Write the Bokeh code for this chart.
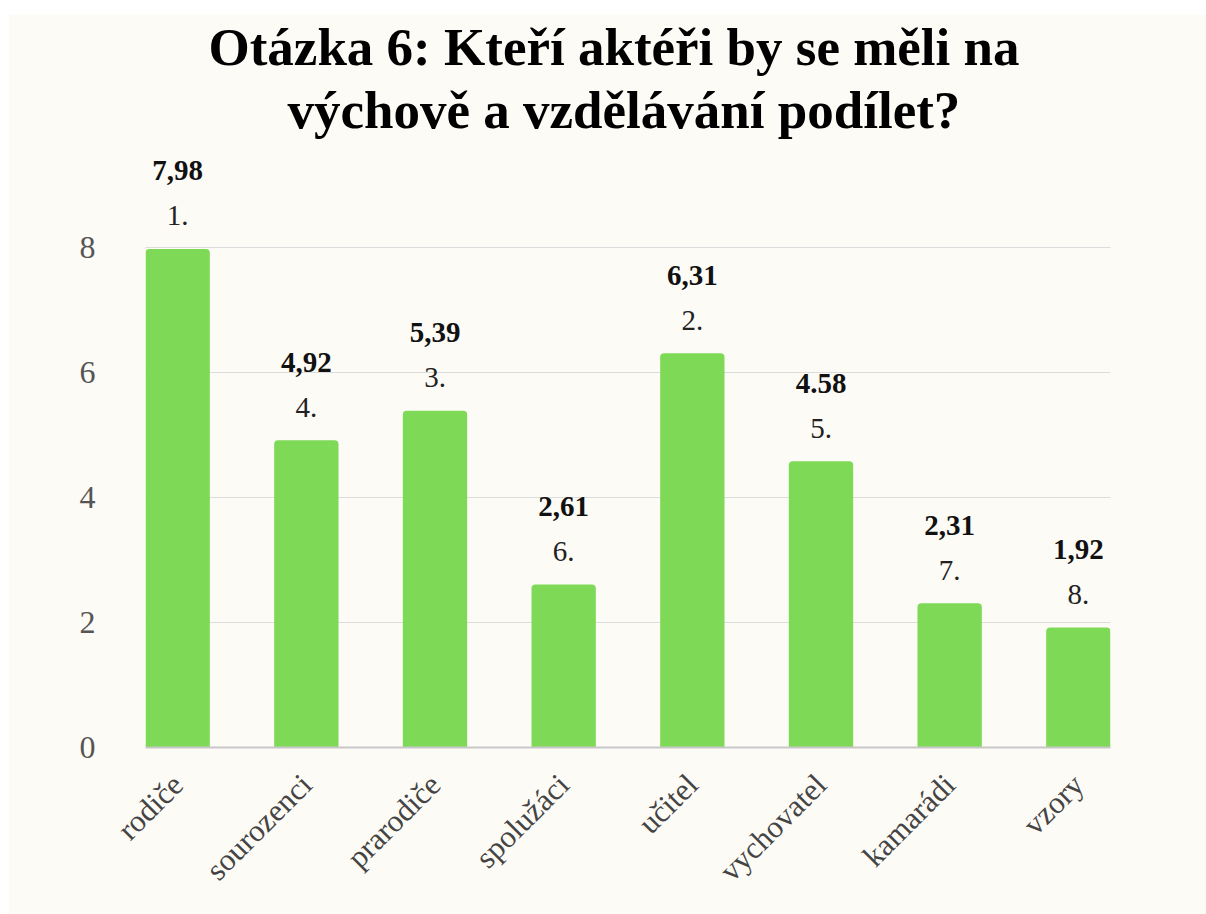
from math import pi
from bokeh.plotting import figure
from bokeh.models import Range1d, FixedTicker, ColumnDataSource, Title
from bokeh.core.properties import value
from bokeh.embed import file_html
from bokeh.resources import INLINE

categories = ["rodiče", "sourozenci", "prarodiče", "spolužáci", "učitel", "vychovatel", "kamarádi", "vzory"]
values = [7.98, 4.92, 5.39, 2.61, 6.31, 4.58, 2.31, 1.92]
value_labels = ["7,98", "4,92", "5,39", "2,61", "6,31", "4.58", "2,31", "1,92"]
ranks = ["1.", "4.", "3.", "6.", "2.", "5.", "7.", "8."]
y_ticks = [0, 2, 4, 6, 8]
title_lines = ["Otázka 6: Kteří aktéři by se měli na", "výchově a vzdělávání podílet?"]

BG = "#fdfbf6"
GREEN = "#7ed957"
SERIF = "Liberation Serif"

xs = [i + 0.5 for i in range(len(categories))]
src = ColumnDataSource(dict(x=xs, top=values, vl=value_labels, rk=ranks))

p = figure(width=1198, height=900, output_backend="svg", toolbar_location=None,
           x_range=Range1d(0.25, len(categories) - 0.25), y_range=Range1d(0, 9.7),
           min_border_left=137, min_border_right=96, min_border_top=127, min_border_bottom=167,
           background_fill_color=BG, border_fill_color=BG, outline_line_color=None)
p.margin = (14, 0, 0, 8)
p.title.visible = False

# title: second line added first (closest to plot), then first line
for txt, off, sb in [(title_lines[1], 142, 6), (title_lines[0], 63, 0)]:
    p.add_layout(Title(text=txt, align="left", offset=off, standoff=sb,
                       text_font=SERIF, text_font_style="bold", text_font_size="53px",
                       text_color="#000000"), "above")

p.vbar(x="x", top="top", width=0.5, source=src, fill_color=GREEN, line_color=None,
       border_radius=(4, 4, 0, 0))

p.text(x="x", y="top", text="vl", source=src, y_offset=-78, text_align="center",
       text_baseline="middle", text_font=value(SERIF), text_font_style="bold",
       text_font_size="29px", text_color="#111111")
p.text(x="x", y="top", text="rk", source=src, y_offset=-33, text_align="center",
       text_baseline="middle", text_font=value(SERIF), text_font_size="29px",
       text_color="#222222")

# axes
p.xaxis.ticker = FixedTicker(ticks=xs)
p.xaxis.major_label_overrides = {x: c for x, c in zip(xs, categories)}
p.xaxis.major_label_orientation = pi / 4
p.xaxis.major_label_text_font = SERIF
p.xaxis.major_label_text_font_size = "31px"
p.xaxis.major_label_text_color = "#444444"
p.xaxis.major_label_standoff = 26
p.xaxis.major_tick_line_color = None
p.xaxis.minor_tick_line_color = None
p.xaxis.axis_line_color = "#c8c8c8"
p.xaxis.axis_line_width = 2

p.yaxis.ticker = FixedTicker(ticks=y_ticks)
p.yaxis.major_label_text_font = SERIF
p.yaxis.major_label_text_font_size = "32px"
p.yaxis.major_label_text_color = "#555555"
p.yaxis.major_label_standoff = 44
p.yaxis.major_tick_line_color = None
p.yaxis.minor_tick_line_color = None
p.yaxis.axis_line_color = None

p.xgrid.grid_line_color = None
p.ygrid.ticker = FixedTicker(ticks=y_ticks)
p.ygrid.grid_line_color = "#dcdcdc"
p.ygrid.grid_line_width = 1

open("out.html", "w").write(file_html(p, INLINE))
